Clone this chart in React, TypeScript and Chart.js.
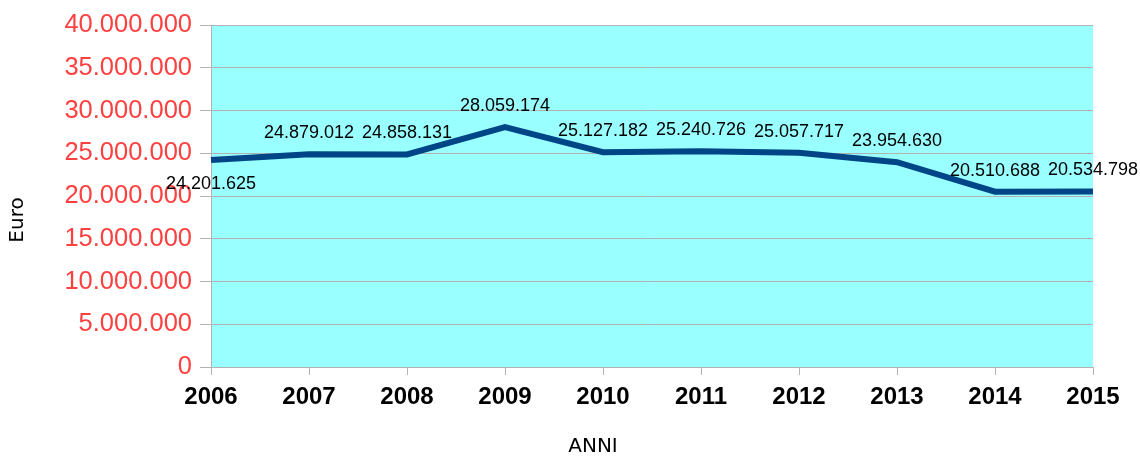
import React, { useEffect, useRef } from "react";
import { Chart, registerables } from "chart.js";

Chart.register(...registerables);

const years = ["2006", "2007", "2008", "2009", "2010", "2011", "2012", "2013", "2014", "2015"];
const euroValues = [24201625, 24879012, 24858131, 28059174, 25127182, 25240726, 25057717, 23954630, 20510688, 20534798];
const yTitle = "Euro";
const xTitle = "ANNI";

const fmt = (v: number) => String(Math.round(v)).replace(/\B(?=(\d{3})+(?!\d))/g, ".");

const bgPlugin = {
  id: "bgPlugin",
  beforeDraw(chart: any) {
    const { ctx, chartArea } = chart;
    ctx.save();
    ctx.fillStyle = "#99ffff";
    ctx.fillRect(chartArea.left, chartArea.top, chartArea.right - chartArea.left, chartArea.bottom - chartArea.top);
    ctx.restore();
  },
};

const labelPlugin = {
  id: "labelPlugin",
  afterDatasetsDraw(chart: any) {
    const { ctx } = chart;
    const meta = chart.getDatasetMeta(0);
    ctx.save();
    ctx.font = "18px 'Liberation Sans'";
    ctx.fillStyle = "#000000";
    ctx.textAlign = "center";
    ctx.textBaseline = "middle";
    meta.data.forEach((pt: any, i: number) => {
      const dy = i === 0 ? 24 : -21;
      ctx.fillText(fmt(euroValues[i]), pt.x, pt.y + dy);
    });
    ctx.restore();
  },
  afterDraw(chart: any) {
    const { ctx } = chart;
    ctx.save();
    ctx.font = "20px 'DejaVu Sans'";
    ctx.fillStyle = "#000000";
    ctx.textAlign = "center";
    ctx.textBaseline = "middle";
    ctx.fillText(xTitle, 593, 447);
    ctx.translate(18, 220);
    ctx.rotate(-Math.PI / 2);
    ctx.fillText(yTitle, 0, 0);
    ctx.restore();
  },
};

export default function App() {
  const ref = useRef<HTMLCanvasElement | null>(null);
  useEffect(() => {
    document.body.style.margin = "0";
    const chart = new Chart(ref.current as HTMLCanvasElement, {
      type: "line",
      data: {
        labels: years,
        datasets: [
          {
            data: euroValues,
            borderColor: "#004586",
            borderWidth: 6,
            pointRadius: 0,
            borderJoinStyle: "miter",
            tension: 0,
          },
        ],
      },
      options: {
        animation: false,
        responsive: false,
        layout: { padding: { left: 0, top: 25, right: 47, bottom: 0 } },
        plugins: { legend: { display: false }, tooltip: { enabled: false } },
        scales: {
          x: {
            offset: false,
            afterFit: (s: any) => { s.height = 89; },
            grid: { display: true, drawOnChartArea: false, drawTicks: true, tickLength: 8, color: "#b3b3b3" },
            border: { display: true, color: "#b3b3b3" },
            ticks: {
              color: "#000000",
              font: { family: "'Liberation Sans'", size: 24, weight: "bold" },
              padding: 8,
              maxRotation: 0,
              autoSkip: false,
            },
          },
          y: {
            min: 0,
            max: 40000000,
            afterFit: (s: any) => { s.width = 211; },
            grid: { color: "#b3b3b3", drawTicks: true, tickLength: 11 },
            border: { display: true, color: "#b3b3b3" },
            ticks: {
              stepSize: 5000000,
              color: "#ff4040",
              font: { family: "'Liberation Sans'", size: 25.5 },
              padding: 8,
              callback: (v: any) => fmt(Number(v)),
            },
          },
        },
      },
      plugins: [bgPlugin, labelPlugin],
    });
    return () => chart.destroy();
  }, []);
  return (
    <div style={{ width: 1140, height: 456 }}>
      <canvas ref={ref} width={1140} height={456} />
    </div>
  );
}
